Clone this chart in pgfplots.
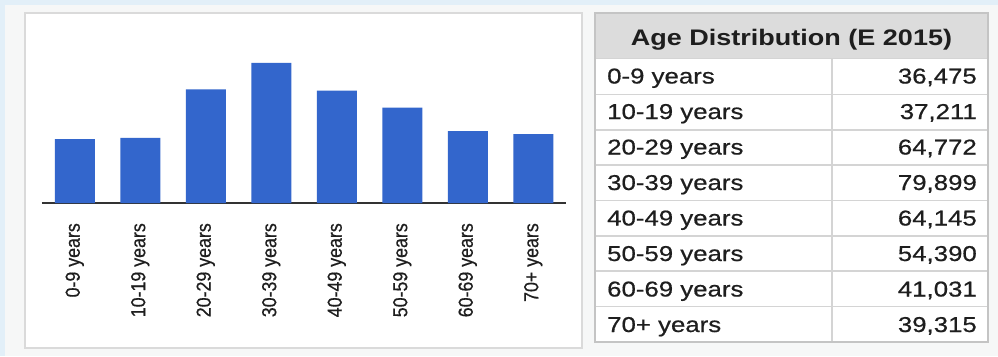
\documentclass[border=0pt]{standalone}
\usepackage{fontspec}
\setmainfont{Liberation Sans}
\newfontfamily\tabfont[FakeStretch=1.2,FakeBold=0.6]{Liberation Sans}
\newfontfamily\headfont[FakeStretch=1.2]{Liberation Sans}
\newfontfamily\labfont[FakeStretch=0.877,FakeBold=0.5]{Liberation Sans}
\usepackage{pgfplots}
\pgfplotsset{compat=1.18}
\definecolor{barblue}{HTML}{3366CC}
\definecolor{bgblue}{HTML}{E2EFF8}
\definecolor{bggray}{HTML}{F6F7F7}
\definecolor{panelborder}{HTML}{DADADA}
\definecolor{headgray}{HTML}{DCDCDC}
\definecolor{gridgray}{HTML}{D4D4D4}
\definecolor{axisgray}{HTML}{333333}
\definecolor{txt}{HTML}{1E1E1E}
\begin{document}
\begin{tikzpicture}[x=1pt,y=-1pt]
\fill[bgblue] (0,0) rectangle (998,356);
\fill[bggray] (5,5) rectangle (998,356);
\draw[panelborder, line width=1.5pt, fill=white] (25,13) rectangle (582,348);
\fill[white] (595,13) rectangle (988,342);
\fill[headgray] (595,13) rectangle (988,58.3);
\foreach \yy in {58.3,94.3,130,165,200.5,236,271,306.5}
  \draw[gridgray, line width=1.3pt] (595,\yy) -- (988,\yy);
\draw[gridgray, line width=1.3pt] (832,58.3) -- (832,342);
\draw[panelborder!90!black, line width=1.5pt] (595,13) rectangle (988,342);
\node[anchor=base, text=txt, font=\headfont\bfseries\fontsize{22.5}{24}\selectfont] at (791.5,45) {Age Distribution (E 2015)};
\foreach \lab/\val [count=\i from 0] in {0-9 years/{36,475},10-19 years/{37,211},20-29 years/{64,772},30-39 years/{79,899},40-49 years/{64,145},50-59 years/{54,390},60-69 years/{41,031},70+ years/{39,315}} {
  \node[anchor=base west, inner sep=0pt, text=txt, font=\tabfont\fontsize{21.5}{23}\selectfont] at (607,{83.5+35.5*\i}) {\lab};
  \node[anchor=base east, inner sep=0pt, text=txt, font=\tabfont\fontsize{21.5}{23}\selectfont] at (977,{83.5+35.5*\i}) {\val};
}
\begin{axis}[at={(42pt,-203pt)}, anchor=south west, scale only axis,
  width=524pt, height=140.2pt,
  xmin=-0.5, xmax=7.5, ymin=0, ymax=80000,
  axis y line=none, axis x line=bottom,
  x axis line style={-, draw=axisgray, line width=2pt},
  xtick=data,
  xticklabels={0-9 years,10-19 years,20-29 years,30-39 years,40-49 years,50-59 years,60-69 years,70+ years},
  major tick length=0pt,
  xticklabel style={rotate=90, anchor=east, inner sep=0pt, text=txt, font=\labfont\fontsize{20.3}{22}\selectfont},
  xticklabel shift=20pt,
  ybar, bar width=40pt, clip=false]
\addplot[fill=barblue, draw=none] coordinates {(0,36475) (1,37211) (2,64772) (3,79899) (4,64145) (5,54390) (6,41031) (7,39315)};
\end{axis}
\end{tikzpicture}
\end{document}
